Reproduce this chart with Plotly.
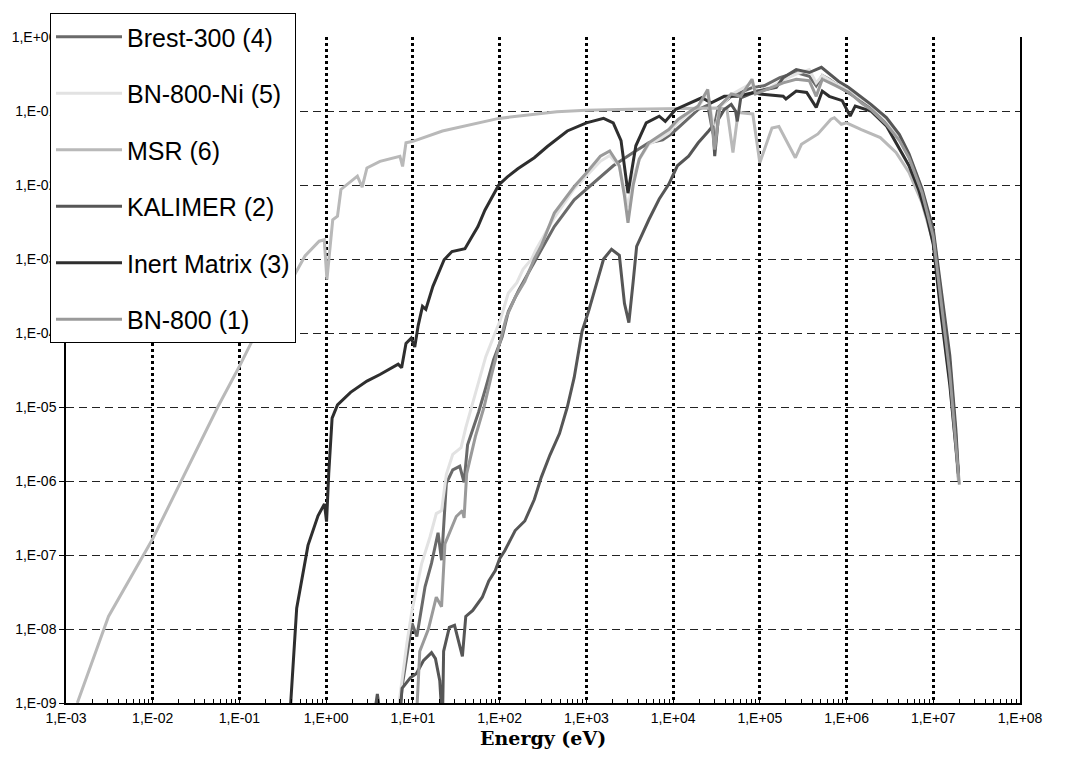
import plotly.graph_objects as go

# ---------------- data (energy in eV, flux per lethargy, normalised) ----------------
brest_e = [6.92, 7.5, 9.77, 11.1, 13.8, 16.4, 19.5, 21.4, 24.3, 28.8, 34.7, 38.9, 42.7, 57.5, 69.2,
           85.1, 107, 126, 166, 204, 251, 302, 427, 724, 1.2e3, 2.04e3, 3.47e3, 5.25e3, 7.59e3,
           9.77e3, 1.38e4, 1.95e4, 2.51e4, 2.88e4, 3.31e4, 4.68e4, 8.13e4, 1.12e5, 1.7e5, 2.63e5,
           3.72e5, 4.47e5, 5.25e5, 6.31e5, 8.91e5, 1.51e6, 1.91e6, 2.88e6, 4.07e6, 5.25e6, 7.41e6,
           1e7, 1.23e7, 1.55e7, 1.82e7, 1.95e7]
brest_f = [5.0e-10, 1.66e-9, 1.2e-8, 7.94e-9, 3.72e-8, 7.76e-8, 2.0e-7, 8.51e-8, 9.33e-7, 1.41e-6,
           1.58e-6, 9.55e-7, 3.09e-6, 8.71e-6, 1.82e-5, 4.37e-5, 8.91e-5, 1.95e-4, 3.8e-4, 5.89e-4,
           8.91e-4, 1.35e-3, 2.75e-3, 6.31e-3, 1.07e-2, 1.82e-2, 2.75e-2, 3.72e-2, 4.07e-2, 5.01e-2,
           7.24e-2, 0.105, 0.12, 5.01e-2, 0.112, 0.158, 0.207, 0.219, 0.282, 0.331, 0.295, 0.219,
           0.302, 0.269, 0.2, 0.135, 0.112, 7.08e-2, 4.17e-2, 2.4e-2, 7.94e-3, 2.24e-3, 3.16e-4,
           3.98e-5, 3.98e-6, 1.12e-6]

bnni_e = [6.92, 8.51, 9.77, 12.6, 15.8, 18.6, 21.4, 24.3, 28.8, 35.9, 40.7, 52.5, 69.2, 85.1, 102,
          126, 158, 186, 234, 263, 427, 724, 1e3, 1.45e3, 1.86e3, 2.4e3, 3.02e3, 3.47e3, 4.07e3,
          5.25e3, 6.92e3, 8.91e3, 1.15e4, 1.66e4, 1.95e4, 2.51e4, 3.02e4, 3.47e4, 4.68e4, 8.13e4,
          8.91e4, 1.32e5, 1.86e5, 2.63e5, 3.72e5, 4.47e5, 5.25e5, 7.59e5, 1.07e6, 1.51e6, 1.91e6,
          2.88e6, 4.07e6, 5.25e6, 7.41e6, 1e7, 1.23e7, 1.55e7, 1.82e7, 1.95e7]
bnni_f = [1.0e-9, 6.31e-9, 1.78e-8, 7.59e-8, 1.78e-7, 3.63e-7, 3.98e-7, 1.23e-6, 2.29e-6, 2.82e-6,
          5.25e-6, 1.48e-5, 4.79e-5, 8.91e-5, 1.51e-4, 3.47e-4, 4.79e-4, 7.24e-4, 1.0e-3, 1.35e-3,
          3.63e-3, 8.91e-3, 1.32e-2, 2.09e-2, 2.51e-2, 1.78e-2, 5.01e-3, 1.26e-2, 2.19e-2, 3.55e-2,
          4.17e-2, 5.01e-2, 7.08e-2, 0.1, 0.112, 0.178, 5.01e-2, 0.112, 0.166, 0.24, 0.178, 0.209,
          0.263, 0.316, 0.363, 0.24, 0.302, 0.229, 0.191, 0.145, 0.12, 7.59e-2, 4.37e-2, 2.51e-2,
          8.91e-3, 2.24e-3, 3.16e-4, 3.55e-5, 3.98e-6, 1.12e-6]

msr_e = [1.35e-3, 3.09e-3, 1e-2, 2.57e-2, 5.62e-2, 0.1, 0.141, 0.316, 0.57, 0.83, 0.95, 1.02, 1.19,
         1.35, 1.48, 2.29, 2.6, 2.95, 4.17, 7.08, 7.6, 8.32, 10, 21.9, 97.7, 457, 1e3, 3.16e3, 1e4,
         3.16e4, 4.17e4, 4.9e4, 5.62e4, 8.3e4, 1e5, 1.38e5, 1.66e5, 2.57e5, 3.02e5, 3.55e5, 4.68e5,
         6.61e5, 7.24e5, 8.71e5, 1e6, 1.48e6, 2.45e6, 3.72e6, 5.25e6, 7.41e6, 1e7, 1.23e7, 1.55e7,
         1.82e7, 1.95e7]
msr_f = [1e-9, 1.48e-8, 1.66e-7, 1.58e-6, 1.0e-5, 3.55e-5, 7.94e-5, 3.16e-4, 1.1e-3, 1.74e-3,
         1.82e-3, 5.25e-4, 3.39e-3, 3.8e-3, 8.71e-3, 1.32e-2, 9.33e-3, 1.7e-2, 2.09e-2, 2.45e-2,
         1.78e-2, 3.72e-2, 3.89e-2, 5.37e-2, 7.94e-2, 9.77e-2, 0.102, 0.106, 0.107, 0.11, 0.107,
         2.75e-2, 9.55e-2, 9.12e-2, 2.0e-2, 5.89e-2, 6.17e-2, 2.34e-2, 3.55e-2, 3.98e-2, 4.9e-2,
         7.76e-2, 8.13e-2, 6.61e-2, 6.92e-2, 5.62e-2, 4.37e-2, 2.75e-2, 1.48e-2, 5.75e-3, 1.66e-3,
         2.0e-4, 2.24e-5, 2.82e-6, 1.0e-6]

kalimer_e = [3.55, 3.89, 4.37, 6.92, 7.5, 9.33, 11.0, 13.2, 16.4, 18.2, 20.4, 21.9, 22.6, 26.3, 30.2,
             37.2, 40.7, 49.0, 63.1, 75.0, 89.1, 100, 115, 151, 195, 251, 302, 380, 490, 603, 724,
             891, 1.07e3, 1.32e3, 1.58e3, 1.95e3, 2.4e3, 2.75e3, 3.09e3, 3.47e3, 3.8e3, 5.25e3,
             6.92e3, 8.91e3, 1.12e4, 1.51e4, 1.95e4, 2.57e4, 2.88e4, 3.02e4, 3.31e4, 3.89e4, 4.68e4,
             5.25e4, 5.5e4, 6.03e4, 9.33e4, 1.55e5, 1.86e5, 2.63e5, 3.72e5, 5.13e5, 6.31e5, 8.13e5,
             1.05e6, 1.51e6, 1.91e6, 2.88e6, 4.07e6, 5.25e6, 7.41e6, 1e7, 1.23e7, 1.55e7, 1.82e7,
             1.95e7]
kalimer_f = [6.3e-10, 1.32e-9, 5.0e-10, 5.0e-10, 1.58e-9, 2.19e-9, 2.51e-9, 3.72e-9, 4.79e-9, 3.98e-9,
             2.0e-9, 5.0e-10, 5.0e-9, 1.05e-8, 1.12e-8, 4.27e-9, 1.48e-8, 1.78e-8, 2.69e-8, 4.47e-8,
             6.17e-8, 8.91e-8, 1.15e-7, 2.14e-7, 2.88e-7, 5.62e-7, 1.12e-6, 2.24e-6, 4.37e-6, 1e-5,
             2.51e-5, 1.05e-4, 2.04e-4, 4.68e-4, 1e-3, 1.35e-3, 1.12e-3, 2.51e-4, 1.38e-4, 5.01e-4,
             1.48e-3, 3.39e-3, 6.46e-3, 1.02e-2, 1.82e-2, 2.45e-2, 3.72e-2, 5.37e-2, 6.31e-2, 2.45e-2,
             7.59e-2, 0.105, 0.123, 0.1, 7.24e-2, 0.151, 0.186, 0.209, 0.282, 0.363, 0.331, 0.389,
             0.316, 0.251, 0.209, 0.151, 0.123, 8.13e-2, 4.79e-2, 2.63e-2, 8.91e-3, 2.51e-3, 3.98e-4,
             5.01e-5, 5.01e-6, 1.26e-6]

inert_e = [0.39, 0.457, 0.617, 0.805, 0.955, 1.01, 1.07, 1.17, 1.35, 1.91, 2.95, 4.17, 6.76, 7.41,
           8.32, 9.55, 10.5, 11.5, 12.9, 14.1, 17.0, 20.0, 22.9, 28.2, 39.8, 47.9, 56.2, 67.6, 81.3,
           97.7, 123, 162, 251, 355, 603, 1e3, 1.58e3, 2.04e3, 2.51e3, 3.02e3, 3.72e3, 4.9e3, 6.92e3,
           8.13e3, 1.07e4, 1.95e4, 2.14e4, 2.75e4, 3.89e4, 5.5e4, 8.51e4, 1e5, 1.86e5, 2.0e5, 2.63e5,
           3.47e5, 4.47e5, 5.25e5, 6.31e5, 8.91e5, 1.1e6, 1.26e6, 1.91e6, 2.88e6, 4.07e6, 5.25e6,
           6.76e6, 8.51e6, 1e7, 1.23e7, 1.55e7, 1.82e7, 1.95e7]
inert_f = [1e-9, 1.91e-8, 1.35e-7, 3.39e-7, 4.9e-7, 2.82e-7, 1.26e-6, 7.08e-6, 1.07e-5, 1.58e-5,
           2.24e-5, 2.75e-5, 3.8e-5, 3.39e-5, 7.24e-5, 8.51e-5, 6.46e-5, 1.26e-4, 2.29e-4, 2.09e-4,
           4.27e-4, 6.76e-4, 9.77e-4, 1.26e-3, 1.38e-3, 2.0e-3, 2.75e-3, 4.57e-3, 6.92e-3, 1e-2,
           1.29e-2, 1.66e-2, 2.34e-2, 3.31e-2, 5.37e-2, 6.92e-2, 7.94e-2, 6.92e-2, 3.98e-2, 7.76e-3,
           3.39e-2, 6.92e-2, 8.51e-2, 7.24e-2, 0.105, 0.145, 0.151, 0.129, 0.158, 0.158, 0.178, 0.17,
           0.158, 0.145, 0.186, 0.178, 0.112, 0.186, 0.158, 0.138, 8.51e-2, 0.117, 0.1, 6.31e-2,
           3.16e-2, 1.82e-2, 8.71e-3, 3.55e-3, 1.58e-3, 1.78e-4, 2.0e-5, 2.51e-6, 1.26e-6]

bn800_e = [11.1, 12.0, 15.1, 18.6, 21.4, 23.4, 31.6, 37.2, 38.9, 41.7, 52.5, 66.1, 81.3, 102, 120,
           151, 195, 251, 302, 427, 724, 1e3, 1.45e3, 1.86e3, 2.4e3, 2.75e3, 3.02e3, 3.47e3, 4.07e3,
           5.25e3, 6.92e3, 8.91e3, 1.15e4, 1.66e4, 1.95e4, 2.51e4, 3.02e4, 3.47e4, 4.68e4, 6.03e4,
           8.13e4, 8.91e4, 1.32e5, 1.86e5, 2.63e5, 3.72e5, 4.47e5, 5.25e5, 7.59e5, 1.07e6, 1.51e6,
           1.91e6, 2.88e6, 4.07e6, 5.25e6, 7.41e6, 1e7, 1.23e7, 1.55e7, 1.82e7, 2.0e7]
bn800_f = [7.94e-10, 5.01e-9, 1.0e-8, 2.69e-8, 2.0e-8, 1.41e-7, 3.31e-7, 3.98e-7, 3.16e-7, 1.26e-6,
           3.98e-6, 1.0e-5, 2.82e-5, 7.94e-5, 1.66e-4, 3.02e-4, 5.01e-4, 1.0e-3, 1.51e-3, 4.17e-3,
           9.55e-3, 1.45e-2, 2.45e-2, 2.88e-2, 1.82e-2, 7.08e-3, 3.09e-3, 1.0e-2, 2.24e-2, 3.72e-2,
           4.57e-2, 5.62e-2, 7.76e-2, 0.105, 0.117, 0.195, 3.02e-2, 0.117, 0.17, 0.158, 0.269, 0.17,
           0.207, 0.24, 0.269, 0.257, 0.158, 0.269, 0.219, 0.178, 0.126, 0.105, 6.61e-2, 3.98e-2,
           2.34e-2, 7.94e-3, 2.0e-3, 2.51e-4, 2.82e-5, 3.16e-6, 8.91e-7]

series_names = ["Brest-300 (4)", "BN-800-Ni (5)", "MSR (6)", "KALIMER (2)", "Inert Matrix (3)", "BN-800 (1)"]
series_x = [brest_e, bnni_e, msr_e, kalimer_e, inert_e, bn800_e]
series_y = [brest_f, bnni_f, msr_f, kalimer_f, inert_f, bn800_f]
series_colors = ["#6a6a6a", "#e2e2e2", "#b9b9b9", "#565656", "#2e2e2e", "#9a9a9a"]

x_tickvals = [1e-3, 1e-2, 1e-1, 1e0, 1e1, 1e2, 1e3, 1e4, 1e5, 1e6, 1e7, 1e8]
x_ticktext = ["1,E-03", "1,E-02", "1,E-01", "1,E+00", "1,E+01", "1,E+02", "1,E+03", "1,E+04",
              "1,E+05", "1,E+06", "1,E+07", "1,E+08"]
y_tickvals = [1e-9, 1e-8, 1e-7, 1e-6, 1e-5, 1e-4, 1e-3, 1e-2, 1e-1, 1e0]
y_ticktext = ["1,E-09", "1,E-08", "1,E-07", "1,E-06", "1,E-05", "1,E-04", "1,E-03", "1,E-02",
              "1,E-01", "1,E+00"]

# ---------------- figure ----------------
fig = go.Figure()
for i, (name, xs, ys, col) in enumerate(zip(series_names, series_x, series_y, series_colors)):
    fig.add_trace(go.Scatter(x=xs, y=ys, mode="lines", name=name, legendgroup=f"g{i}",
                             line=dict(color=col, width=3)))

sans = "Liberation Sans, Arial, sans-serif"
W, H = 1053, 756   # page body has an 8px margin, so the figure is 16px smaller than the window
fig.update_layout(
    width=W, height=H,
    margin=dict(l=58, r=41, t=29, b=61, autoexpand=False),
    paper_bgcolor="white", plot_bgcolor="white",
    showlegend=True,
    legend=dict(xref="container", yref="container", x=42 / W, y=1 - 5 / H,
                xanchor="left", yanchor="top",
                bgcolor="white", bordercolor="black", borderwidth=1,
                font=dict(family=sans, size=25, color="black"),
                traceorder="grouped", tracegroupgap=21, itemwidth=66,
                entrywidth=267, entrywidthmode="pixels"),
    font=dict(family=sans, color="black"),
)
fig.update_xaxes(type="log", range=[-3, 8], tickvals=x_tickvals, ticktext=x_ticktext,
                 tickfont=dict(family=sans, size=14, color="black"),
                 showgrid=True, gridcolor="black", griddash="dot", gridwidth=2.5,
                 showline=True, linecolor="black", linewidth=1.5, zeroline=False,
                 ticks="inside", ticklen=5, tickcolor="black", tickwidth=1.2,
                 ticklabelstandoff=1,
                 minor=dict(ticks="inside", ticklen=4, dtick="D1", tickcolor="black",
                            tickwidth=1, showgrid=False))
fig.update_yaxes(type="log", range=[-9, 0], tickvals=y_tickvals, ticktext=y_ticktext,
                 tickfont=dict(family=sans, size=14, color="black"),
                 showgrid=True, gridcolor="#222222", griddash="8px,5px", gridwidth=1,
                 showline=True, linecolor="black", linewidth=1.5, mirror=True, zeroline=False,
                 ticks="outside", ticklen=5, tickcolor="black", tickwidth=1.2)
fig.add_annotation(text="<b>Energy (eV)</b>", xref="paper", yref="paper", x=0.5, y=-0.053,
                   xanchor="center", yanchor="middle", showarrow=False, borderpad=0,
                   font=dict(family="DejaVu Serif, serif", size=19, color="black"))

fig.write_html("out.html")
